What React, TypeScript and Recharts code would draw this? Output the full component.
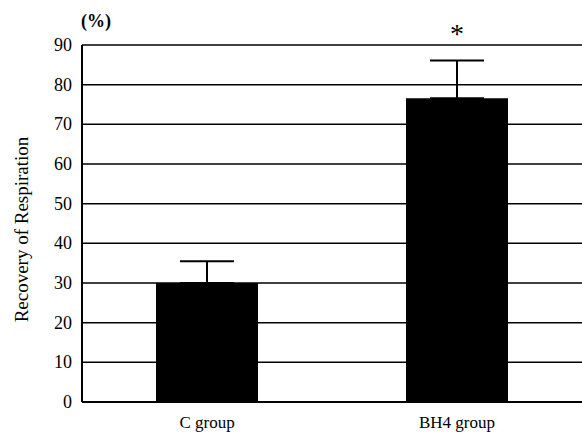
import { Bar, BarChart, CartesianGrid, ErrorBar, ReferenceDot, XAxis, YAxis } from 'recharts'

const groups = ['C group', 'BH4 group']
const recovery = [30, 76.6]
const sdUpper = [5.5, 9.5]
const yTicks = [0, 10, 20, 30, 40, 50, 60, 70, 80, 90]
const significant = [{ group: 'BH4 group', y: 93, mark: '*' }]

const FONT = '"Liberation Serif", "DejaVu Serif", serif'

const rows = groups.map((g, i) => ({
  group: g,
  value: recovery[i],
  err: [0, sdUpper[i]]
}))

// rotated axis title plus the "(%)" unit above the axis
function AxisTitle(props: any) {
  const vb = props.viewBox
  const cy = vb.y + vb.height / 2 + 6
  return (
    <g fontFamily={FONT} fill="#000">
      <text
        x={21}
        y={cy}
        transform={`rotate(-90 21 ${cy})`}
        textAnchor="middle"
        dominantBaseline="central"
        fontSize={19}
      >
        Recovery of Respiration
      </text>
      <text x={vb.x + vb.width + 14} y={vb.y - 24} textAnchor="middle" dominantBaseline="central" fontSize={18} fontWeight="bold">
        (%)
      </text>
    </g>
  )
}

function ValueTick(props: any) {
  const { x, y, payload } = props
  return (
    <text x={x} y={y} textAnchor="end" dominantBaseline="central" fontFamily={FONT} fontSize={18} fill="#000">
      {payload.value}
    </text>
  )
}

export default function App() {
  return (
    <div style={{ position: 'absolute', left: 0, top: 0, background: '#fff', fontFamily: FONT }}>
      <BarChart width={582} height={437} data={rows} margin={{ top: 45, right: 0, left: 0, bottom: 5 }}>
        <CartesianGrid vertical={false} stroke="#000" strokeWidth={1.5} />
        <XAxis
          dataKey="group"
          height={30}
          axisLine={{ stroke: '#000', strokeWidth: 2 }}
          tickLine={false}
          tick={{ fill: '#000', fontSize: 17, fontFamily: FONT }}
          tickMargin={8}
        />
        <YAxis
          domain={[0, 90]}
          ticks={yTicks}
          width={82}
          axisLine={{ stroke: '#000', strokeWidth: 2 }}
          tickLine={false}
          tickSize={8}
          tickMargin={2}
          tick={<ValueTick />}
          label={<AxisTitle />}
        />
        <Bar dataKey="value" fill="#000" barSize={102} isAnimationActive={false}>
          <ErrorBar dataKey="err" direction="y" width={27} stroke="#000" strokeWidth={2} />
        </Bar>
        {significant.map((s) => (
          <ReferenceDot
            key={s.group}
            x={s.group}
            y={s.y}
            r={0}
            fill="none"
            stroke="none"
            ifOverflow="visible"
            label={{ value: s.mark, position: 'center', fontSize: 28, fill: '#000', fontFamily: FONT }}
          />
        ))}
      </BarChart>
    </div>
  )
}
